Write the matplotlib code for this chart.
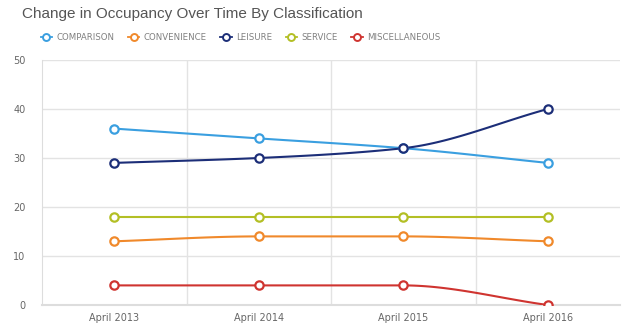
import matplotlib.pyplot as plt
import numpy as np

# data
years = ['April 2013', 'April 2014', 'April 2015', 'April 2016']
comparison = [36, 34, 32, 29]
convenience = [13, 14, 14, 13]
leisure = [29, 30, 32, 40]
service = [18, 18, 18, 18]
miscellaneous = [4, 4, 4, 0]

names = ['COMPARISON', 'CONVENIENCE', 'LEISURE', 'SERVICE', 'MISCELLANEOUS']
series = [comparison, convenience, leisure, service, miscellaneous]
colors = ['#3a9fe0', '#f0892b', '#1c2e78', '#b3bf25', '#cf3430']


# monotone cubic curve through the points (like the smoothed lines of the chart)
def smooth(x, y, n=40):
    x = np.asarray(x, float)
    y = np.asarray(y, float)
    h = np.diff(x)
    d = np.diff(y) / h
    m = np.zeros(len(x))
    m[0], m[-1] = d[0], d[-1]
    for i in range(1, len(x) - 1):
        if d[i - 1] * d[i] <= 0:
            m[i] = 0
        else:
            m[i] = 2 / (1 / d[i - 1] + 1 / d[i])
    xs, ys = [], []
    for i in range(len(x) - 1):
        t = np.linspace(0, 1, n)
        h00 = 2 * t**3 - 3 * t**2 + 1
        h10 = t**3 - 2 * t**2 + t
        h01 = -2 * t**3 + 3 * t**2
        h11 = t**3 - t**2
        xs.append(x[i] + t * h[i])
        ys.append(h00 * y[i] + h10 * h[i] * m[i] + h01 * y[i + 1] + h11 * h[i] * m[i + 1])
    return np.concatenate(xs), np.concatenate(ys)


fig = plt.figure(figsize=(6.4, 3.34), dpi=100)
ax = fig.add_axes([42 / 640, 1 - 305 / 334, 578 / 640, 245 / 334])

xpos = np.arange(len(years)) + 0.5
for name, vals, c in zip(names, series, colors):
    sx, sy = smooth(xpos, vals)
    ax.plot(sx, sy, color=c, lw=1.5, zorder=3)
    ax.plot(xpos, vals, 'o', ms=6, mfc='white', mec=c, mew=1.6, zorder=4)
    ax.plot([], [], '-o', color=c, lw=1.3, ms=5, mfc='white', mec=c, mew=1.4, label=name)

ax.set_xlim(0, 4)
ax.set_ylim(0, 50)
ax.set_yticks([0, 10, 20, 30, 40, 50])
ax.set_xticks(xpos)
ax.set_xticklabels(years)
for xv in [1, 2, 3]:
    ax.axvline(xv, color='#e3e3e3', lw=1, zorder=1)
ax.grid(axis='y', color='#e3e3e3', lw=1, zorder=1)
for s in ['top', 'right']:
    ax.spines[s].set_visible(False)
ax.spines['left'].set_color('#dddddd')
ax.spines['bottom'].set_color('#dddddd')
ax.spines['bottom'].set_linewidth(1.5)
ax.tick_params(length=0, labelsize=7, colors='#666666', pad=6)
ax.tick_params(axis='y', pad=12)

fig.text(22 / 640, 1 - 14 / 334, 'Change in Occupancy Over Time By Classification',
         fontsize=11, color='#555555', va='center', family='Liberation Sans')
fig.legend(loc='center left', bbox_to_anchor=(33 / 640, 1 - 38 / 334), ncol=5, frameon=False,
           fontsize=6.2, handlelength=1.3, handletextpad=0.5, columnspacing=1.6,
           labelcolor='#808080')

fig.savefig('out.png', dpi=100)
